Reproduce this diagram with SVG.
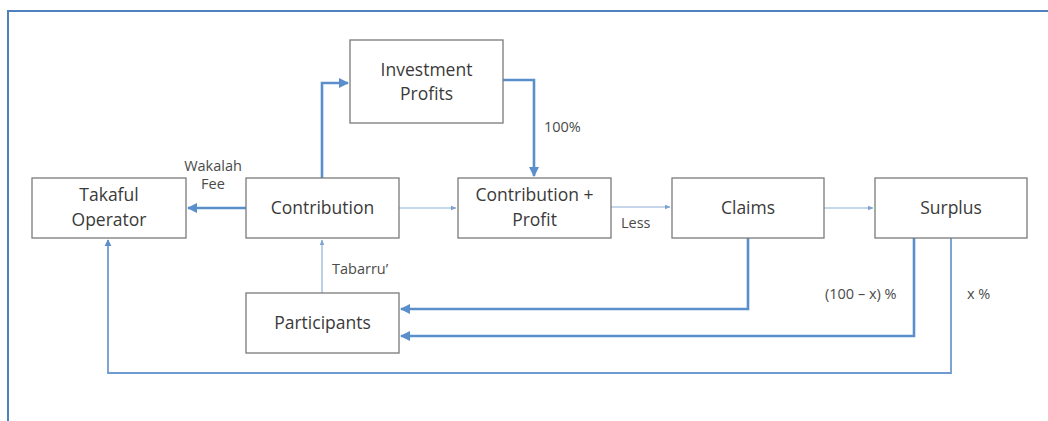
<svg xmlns="http://www.w3.org/2000/svg" width="1048" height="421" viewBox="0 0 1048 421">
<defs>
<marker id="ah" viewBox="0 0 10 10" refX="9" refY="5" markerWidth="4" markerHeight="4" orient="auto" markerUnits="strokeWidth"><path d="M0,0 L10,5 L0,10 Z" fill="#5b8fcb"/></marker>
<marker id="ahs" viewBox="0 0 10 10" refX="9" refY="5" markerWidth="5" markerHeight="5" orient="auto" markerUnits="strokeWidth"><path d="M0,1 L10,5 L0,9 Z" fill="#7fa3cf"/></marker>
</defs>
<style>
.box{fill:#fff;stroke:#7a7a7a;stroke-width:1.3}
.t{font-family:"Open Sans","Liberation Sans",sans-serif;font-size:17.5px;fill:#3a3a3a;text-anchor:middle}
.l{font-family:"Open Sans","Liberation Sans",sans-serif;font-size:14.5px;fill:#4a4a4a;}
.thick{fill:none;stroke:#5b8fcb;stroke-width:2.6;marker-end:url(#ah)}
.thin{fill:none;stroke:#8eb0d8;stroke-width:1.2;marker-end:url(#ahs)}
.mid{fill:none;stroke:#6f9bd0;stroke-width:1.8;marker-end:url(#ah)}
</style>
<rect width="1048" height="421" fill="#fff"/>
<path d="M8,421 V11 H1048" fill="none" stroke="#4f81bd" stroke-width="2"/>
<g id="connectors">
<path class="thick" d="M246,208 H188"/>
<path class="thick" d="M322,178 V83 H348"/>
<path class="thick" d="M503,80 H534 V176"/>
<path class="thin" d="M399,208 H456"/>
<path class="thin" d="M611,207 H670"/>
<path class="thin" d="M824,208 H873"/>
<path class="thin" d="M322,293 V240"/>
<path class="thick" d="M748,238 V309 H401"/>
<path class="thick" d="M914,236 V336 H401"/>
<path class="mid" d="M951,238 V373 H108 V240"/>
<text class="l" x="213" y="171" text-anchor="middle">Wakalah</text>
<text class="l" x="213" y="189" text-anchor="middle">Fee</text>
<text class="l" x="544" y="132">100%</text>
<text class="l" x="621" y="228">Less</text>
<text class="l" x="332" y="274">Tabarru’</text>
<text class="l" x="825" y="299">(100 – x) %</text>
<text class="l" x="967" y="299">x %</text>
</g>
<g id="investment"><rect class="box" x="350" y="40" width="153" height="83"/><text class="t" x="426.5" y="76">Investment</text><text class="t" x="426.5" y="100">Profits</text></g>
<g id="takaful"><rect class="box" x="32" y="178" width="154" height="60"/><text class="t" x="109" y="201">Takaful</text><text class="t" x="109" y="226">Operator</text></g>
<g id="contribution"><rect class="box" x="246" y="178" width="153" height="60"/><text class="t" x="322.5" y="214">Contribution</text></g>
<g id="contribprofit"><rect class="box" x="458" y="178" width="153" height="60"/><text class="t" x="534.5" y="201">Contribution +</text><text class="t" x="534.5" y="226">Profit</text></g>
<g id="claims"><rect class="box" x="672" y="178" width="152" height="60"/><text class="t" x="748" y="214">Claims</text></g>
<g id="surplus"><rect class="box" x="875" y="178" width="152" height="60"/><text class="t" x="951" y="214">Surplus</text></g>
<g id="participants"><rect class="box" x="246" y="293" width="153" height="60"/><text class="t" x="322.5" y="329">Participants</text></g>
</svg>
